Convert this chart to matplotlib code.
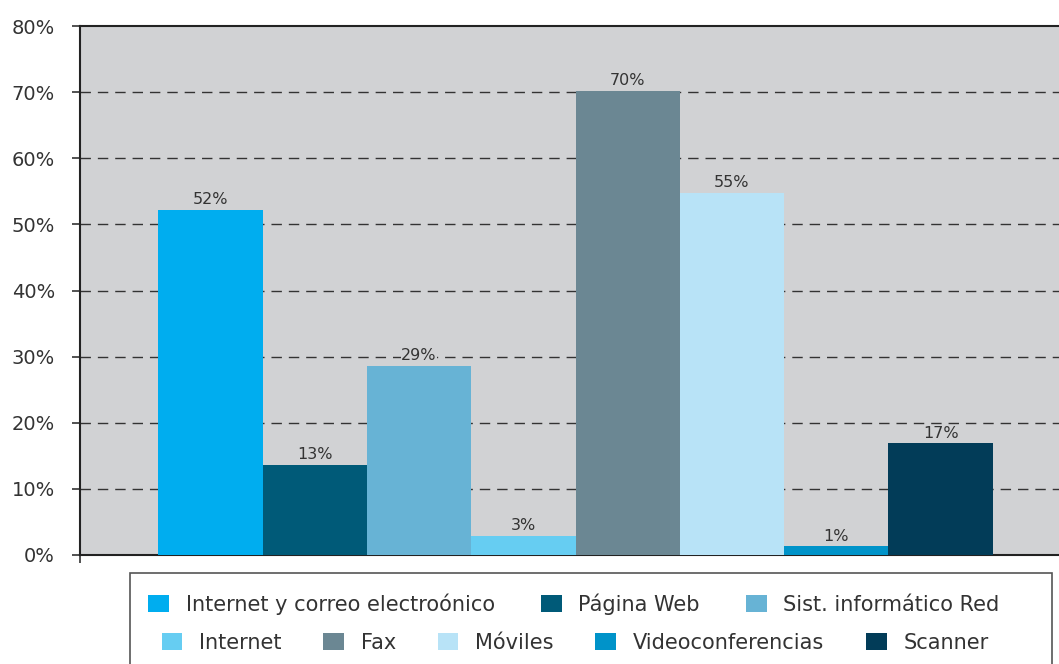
import matplotlib.pyplot as plt
from matplotlib.patches import Rectangle, Patch
import numpy as np

# data
categories = ['Internet y correo electroónico', 'Página Web', 'Sist. informático Red',
              'Internet', 'Fax', 'Móviles', 'Videoconferencias', 'Scanner']
values = [52.2, 13.6, 28.6, 2.9, 70.2, 54.8, 1.3, 16.9]
labels = ['52%', '13%', '29%', '3%', '70%', '55%', '1%', '17%']
colors = ['#00adef', '#005a78', '#67b3d5', '#66cdf2',
          '#6b8793', '#b8e3f7', '#0093c9', '#023c58']

plt.rcParams['font.family'] = ['DejaVu Sans']
bg = '#d1d2d4'

fig = plt.figure(figsize=(10.59, 6.64), dpi=100)
ax = fig.add_axes([80 / 1059, 109 / 664, 991 / 1059, 529 / 664])
ax.set_facecolor(bg)

x = np.arange(len(values))
ax.bar(x, values, width=1.0, color=colors, zorder=3)

for xi, v, lab in zip(x, values, labels):
    ax.text(xi, v + 0.4, lab, ha='center', va='bottom', fontsize=11.5, color='#333333',
            zorder=4, bbox=dict(facecolor=bg, edgecolor='none', pad=0.5))

ax.set_xlim(-1.25, 8.25)
ax.set_ylim(0, 80)
ax.set_yticks(range(0, 81, 10))
ax.set_yticklabels([f'{t}%' for t in range(0, 81, 10)], fontsize=14, color='#333333')
ax.set_xticks([-1.25])
ax.set_xticklabels([''])
ax.tick_params(axis='both', length=6, width=1.2, color='#333333', direction='out')
ax.tick_params(axis='y', pad=12)

for t in range(10, 80, 10):
    ax.axhline(t, color='#333333', linestyle=(0, (7.5, 5)), linewidth=1.0, zorder=1)

for s in ['left', 'bottom', 'top']:
    ax.spines[s].set_color('#222222')
    ax.spines[s].set_linewidth(1.5)
ax.spines['right'].set_visible(False)

# legend: framed box with two rows (3 + 5 items)
handles = [Patch(facecolor=c, edgecolor='none') for c in colors]
fig.patches.append(Rectangle((130 / 1059, -0.02), 922 / 1059, 91 / 664 + 0.02,
                             transform=fig.transFigure, facecolor='white',
                             edgecolor='#555555', linewidth=1.2))
fig.legend(handles[:3], categories[:3], ncol=3, loc='center', frameon=False,
           bbox_to_anchor=(574 / 1059, 1 - 604 / 664), fontsize=15, labelcolor='#333333',
           handlelength=1.0, handleheight=0.9, columnspacing=2.2, handletextpad=0.8)
fig.legend(handles[3:], categories[3:], ncol=5, loc='center', frameon=False,
           bbox_to_anchor=(575 / 1059, 1 - 643 / 664), fontsize=15, labelcolor='#333333',
           handlelength=1.0, handleheight=0.9, columnspacing=2.0, handletextpad=0.8)

plt.savefig('out.png', dpi=100)
